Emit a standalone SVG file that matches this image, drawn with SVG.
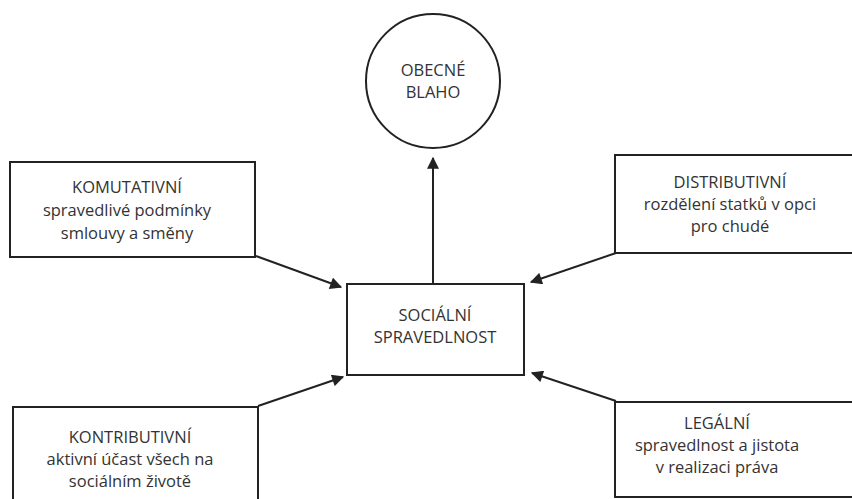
<svg xmlns="http://www.w3.org/2000/svg" width="852" height="499" viewBox="0 0 852 499">
<defs>
<style>
.box{fill:#fff;stroke:#222;stroke-width:2}
.t{font-family:"Open Sans","Noto Sans",sans-serif;font-size:16.5px;fill:#333;text-anchor:middle}
.c{stroke:#222;stroke-width:2;fill:none}
</style>
<marker id="ah2" viewBox="0 0 10 10" refX="9" refY="5" markerWidth="14" markerHeight="12" markerUnits="userSpaceOnUse" orient="auto">
<path d="M0,0 L10,5 L0,10 z" fill="#222"/>
</marker>
</defs>
<rect width="852" height="499" fill="#fff"/>
<g id="connectors">
<line class="c" x1="433" y1="284" x2="433" y2="158" marker-end="url(#ah2)"/>
<line class="c" x1="256" y1="256" x2="341" y2="287" marker-end="url(#ah2)"/>
<line class="c" x1="616" y1="253" x2="531" y2="282" marker-end="url(#ah2)"/>
<line class="c" x1="258" y1="406" x2="343" y2="377" marker-end="url(#ah2)"/>
<line class="c" x1="616" y1="401" x2="532" y2="373" marker-end="url(#ah2)"/>
</g>
<g id="obecne-blaho">
<circle class="box" cx="433" cy="81" r="67"/>
<text class="t" x="433" y="76">OBECNÉ</text>
<text class="t" x="433" y="98">BLAHO</text>
</g>
<g id="socialni-spravedlnost">
<rect class="box" x="347" y="284" width="177" height="91"/>
<text class="t" x="435" y="321">SOCIÁLNÍ</text>
<text class="t" x="435" y="343">SPRAVEDLNOST</text>
</g>
<g id="komutativni">
<rect class="box" x="10" y="162" width="245" height="95"/>
<text class="t" x="127" y="193">KOMUTATIVNÍ</text>
<text class="t" x="127" y="216">spravedlivé podmínky</text>
<text class="t" x="127" y="239">smlouvy a směny</text>
</g>
<g id="distributivni">
<rect class="box" x="615" y="155" width="260" height="98"/>
<text class="t" x="730" y="188">DISTRIBUTIVNÍ</text>
<text class="t" x="730" y="210">rozdělení statků v opci</text>
<text class="t" x="730" y="232">pro chudé</text>
</g>
<g id="kontributivni">
<rect class="box" x="13" y="407" width="245" height="110"/>
<text class="t" x="130" y="443">KONTRIBUTIVNÍ</text>
<text class="t" x="130" y="465">aktivní účast všech na</text>
<text class="t" x="130" y="487">sociálním životě</text>
</g>
<g id="legalni">
<rect class="box" x="615" y="402" width="260" height="95"/>
<text class="t" x="717" y="429">LEGÁLNÍ</text>
<text class="t" x="717" y="451">spravedlnost a jistota</text>
<text class="t" x="717" y="473">v realizaci práva</text>
</g>
</svg>
